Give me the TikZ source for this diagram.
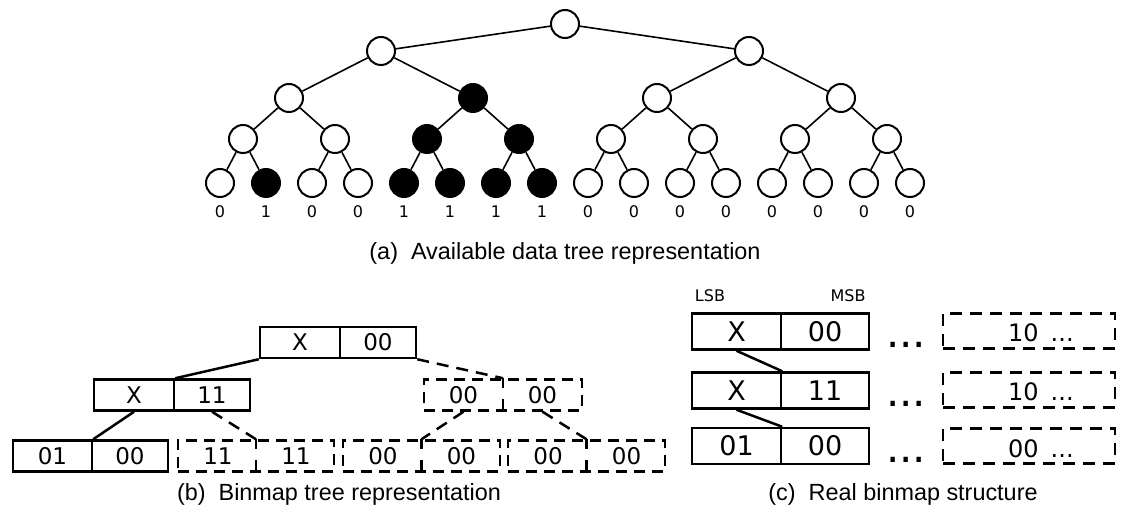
\documentclass[tikz,border=0pt]{standalone}
\usepackage{fontspec}
\setmainfont{Liberation Sans}
\newfontfamily\dvs{DejaVu Sans}
\begin{document}
\begin{tikzpicture}[x=1pt,y=-1pt,
  tn/.style={circle,draw,line width=2pt,minimum size=28pt,inner sep=0pt},
  te/.style={line width=1.6pt},
  lab/.style={font=\dvs\fontsize{16}{18}\selectfont,inner sep=0pt},
  captxt/.style={font=\fontsize{23.4}{27}\selectfont,inner sep=0pt},
  cellb/.style={draw,line width=2.5pt,minimum height=31pt,inner sep=0pt,font=\dvs\fontsize{23}{27}\selectfont},
  dbox/.style={draw,line width=2.5pt,dash pattern=on 11pt off 7pt,minimum height=31pt,inner sep=0pt},
  ddiv/.style={line width=2.5pt,dash pattern=on 10pt off 11pt},
  ctext/.style={inner sep=0pt,font=\dvs\fontsize{23}{27}\selectfont},
  sconn/.style={line width=2.5pt},
  dconn/.style={line width=2.5pt,dash pattern=on 12pt off 8pt},
  cellc/.style={draw,line width=2.5pt,minimum height=36pt,inner sep=0pt,font=\dvs\fontsize{27}{30}\selectfont},
  dboxc/.style={draw,line width=2.5pt,dash pattern=on 12pt off 8pt,minimum width=172pt,minimum height=35pt,inner sep=0pt},
  qtext/.style={inner sep=0pt,font=\dvs\fontsize{24}{27}\selectfont},
  dots/.style={inner sep=0pt,font=\dvs\fontsize{42}{44}\selectfont},
  small/.style={inner sep=0pt,font=\dvs\fontsize{16}{18}\selectfont}
]
\useasboundingbox (0,0) rectangle (1125,518);

% ---------- (a) tree ----------
\foreach \i/\f in {0/white,1/black,2/white,3/white,4/black,5/black,6/black,7/black,8/white,9/white,10/white,11/white,12/white,13/white,14/white,15/white}
  \node[tn,fill=\f] (l\i) at ({220+46*\i},183) {};
\foreach \i/\v in {0/0,1/1,2/0,3/0,4/1,5/1,6/1,7/1,8/0,9/0,10/0,11/0,12/0,13/0,14/0,15/0}
  \node[lab] (t\i) at ({220+46*\i},212) {\v};
\foreach \j/\f in {0/white,1/white,2/black,3/black,4/white,5/white,6/white,7/white}
  \node[tn,fill=\f] (a\j) at ({243+92*\j},139) {};
\foreach \k/\f in {0/white,1/black,2/white,3/white}
  \node[tn,fill=\f] (b\k) at ({289+184*\k},98) {};
\node[tn,fill=white] (c0) at (381,51) {};
\node[tn,fill=white] (c1) at (749,51) {};
\node[tn,fill=white] (r) at (565,24) {};

\foreach \j in {0,...,7}{
  \pgfmathtruncatemacro\p{2*\j}\pgfmathtruncatemacro\q{2*\j+1}
  \draw[te] (a\j) -- (l\p); \draw[te] (a\j) -- (l\q);}
\foreach \k in {0,...,3}{
  \pgfmathtruncatemacro\p{2*\k}\pgfmathtruncatemacro\q{2*\k+1}
  \draw[te] (b\k) -- (a\p); \draw[te] (b\k) -- (a\q);}
\foreach \m in {0,1}{
  \pgfmathtruncatemacro\p{2*\m}\pgfmathtruncatemacro\q{2*\m+1}
  \draw[te] (c\m) -- (b\p); \draw[te] (c\m) -- (b\q);}
\draw[te] (r) -- (c0); \draw[te] (r) -- (c1);

\node[captxt] (capa) at (565,253) {(a)\hspace{13pt}Available data tree representation};

% ---------- (b) binmap tree ----------
\node[cellb,minimum width=80pt] (T1) at (300,342.5) {X};
\node[cellb,minimum width=76pt] (T2) at (378,342.5) {00};
\node[cellb,minimum width=80pt] (M1) at (134,395) {X};
\node[cellb,minimum width=76pt] (M2) at (212,395) {11};
\node[cellb,minimum width=79pt] (B1) at (52.5,456) {01};
\node[cellb,minimum width=76pt] (B2) at (130,456) {00};

\node[dbox,minimum width=158pt] (D) at (503,395) {};
\node[ctext] (D1) at (463.5,395) {00};
\node[ctext] (D2) at (542.5,395) {00};
\draw[ddiv] (D.north) -- (D.south);

\node[dbox,minimum width=156pt] (P1) at (256,456) {};
\node[ctext] (P1a) at (218,456) {11};
\node[ctext] (P1b) at (296,456) {11};
\draw[ddiv] (P1.north) -- (P1.south);

\node[dbox,minimum width=157pt] (P2) at (421.5,456) {};
\node[ctext] (P2a) at (383,456) {00};
\node[ctext] (P2b) at (461.5,456) {00};
\draw[ddiv] (P2.north) -- (P2.south);

\node[dbox,minimum width=157pt] (P3) at (586.5,456) {};
\node[ctext] (P3a) at (548,456) {00};
\node[ctext] (P3b) at (626.5,456) {00};
\draw[ddiv] (P3.north) -- (P3.south);

\draw[sconn] (T1.south west) -- (M1.north east);
\draw[sconn] (M1.south) -- (B1.north east);
\draw[dconn] (M2.south) -- (P1.north);
\draw[dconn] (T2.south east) -- (D.north);
\draw[dconn] (D1 |- D.south) -- (P2.north);
\draw[dconn] (D2 |- D.south) -- (P3.north);

\node[captxt] (capb) at (339,494) {(b)\hspace{13pt}Binmap tree representation};

% ---------- (c) real binmap structure ----------
\node[small] (lsb) at (710,296) {LSB};
\node[small] (msb) at (848,296) {MSB};

\node[cellc,minimum width=89pt] (R1a) at (736.5,331.5) {X};
\node[cellc,minimum width=88pt] (R1b) at (825,331.5) {00};
\node[cellc,minimum width=89pt] (R2a) at (736.5,390.5) {X};
\node[cellc,minimum width=88pt] (R2b) at (825,390.5) {11};
\node[cellc,minimum width=89pt] (R3a) at (736.5,446) {01};
\node[cellc,minimum width=88pt] (R3b) at (825,446) {00};

\draw[sconn] (R1a.south) -- (R2a.north east);
\draw[sconn] (R2a.south) -- (R3a.north east);

\node[dots,anchor=base west] (e1) at (886,348) {...};
\node[dots,anchor=base west] (e2) at (886,407) {...};
\node[dots,anchor=base west] (e3) at (886,463) {...};

\node[dboxc] (Q1) at (1029,331) {};
\node[dboxc] (Q2) at (1029,390) {};
\node[dboxc] (Q3) at (1029,446) {};
\node[qtext,anchor=base west] (q1) at (1008,342) {10\hspace{12pt}...};
\node[qtext,anchor=base west] (q2) at (1008,401) {10\hspace{12pt}...};
\node[qtext,anchor=base west] (q3) at (1008,457) {00\hspace{12pt}...};

\node[captxt] (capc) at (903,494) {(c)\hspace{13pt}Real binmap structure};
\end{tikzpicture}
\end{document}
